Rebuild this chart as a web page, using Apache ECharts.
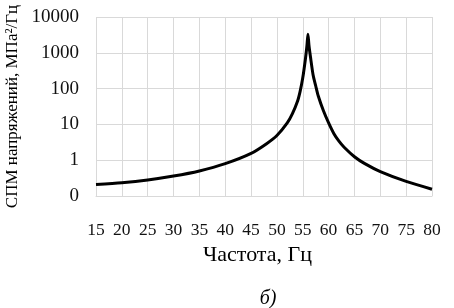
<!DOCTYPE html>
<html>
<head>
<meta charset="utf-8">
<script src="https://cdn.jsdelivr.net/npm/echarts@6/dist/echarts.min.js"></script>
<style>
  html, body { margin: 0; padding: 0; background: #fff; }
  #chart { width: 454px; height: 308px; }
</style>
</head>
<body>
<div id="chart"></div>
<script>
// частота, Гц
const freq = [15, 20, 25, 30, 35, 40, 45, 48, 50, 52, 53, 54, 54.5, 55, 55.5, 55.8, 56,
  56.2, 56.5, 57, 57.5, 58, 59, 60, 61, 62, 63, 65, 67, 70, 75, 80];
// СПМ напряжений, МПа²/Гц
const psd = [0.21, 0.235, 0.28, 0.36, 0.5, 0.8, 1.55, 2.9, 4.9, 11, 20, 45, 85, 200, 650, 1550, 3300,
  1600, 750, 240, 120, 62, 24, 11, 5.6, 3.4, 2.3, 1.25, 0.8, 0.48, 0.255, 0.155];
const xTicks = [15, 80, 5];          // min, max, step
const yTicks = [0.1, 10000];         // log range

const font = '"Liberation Serif", "Times New Roman", serif';
const myChart = echarts.init(document.getElementById('chart'));

const option = {
  animation: false,
  grid: { left: 96, right: 22, top: 17, bottom: 112, outerBoundsMode: 'none' },
  xAxis: {
    type: 'value',
    min: xTicks[0],
    max: xTicks[1],
    interval: xTicks[2],
    name: 'Частота, Гц',
    nameLocation: 'middle',
    nameGap: 47,
    nameTextStyle: { fontFamily: font, fontSize: 22, color: '#000', padding: [0, 13, 0, 0] },
    axisLine: { lineStyle: { color: '#d9d9d9' } },
    axisTick: { show: false },
    axisLabel: { fontFamily: font, fontSize: 17.5, color: '#111', margin: 25 },
    splitLine: { show: true, lineStyle: { color: '#d9d9d9' } }
  },
  yAxis: {
    type: 'log',
    logBase: 10,
    min: yTicks[0],
    max: yTicks[1],
    name: 'СПМ напряжений, МПа²/Гц',
    nameLocation: 'middle',
    nameGap: 71,
    nameTextStyle: { fontFamily: font, fontSize: 17, color: '#000' },
    axisLine: { show: false },
    axisTick: { show: false },
    axisLabel: {
      fontFamily: font, fontSize: 19, color: '#111', margin: 17,
      formatter: v => (v < 1 ? '0' : String(Math.round(v)))
    },
    splitLine: { show: true, lineStyle: { color: '#d9d9d9' } }
  },
  graphic: [{
    type: 'text',
    x: 268, y: 299,
    style: {
      text: 'б)', fontFamily: font, fontSize: 20, fontStyle: 'italic',
      fill: '#000', align: 'center', verticalAlign: 'middle'
    }
  }],
  series: [{
    type: 'line',
    data: freq.map((f, i) => [f, psd[i]]),
    smooth: 0.25,
    showSymbol: false,
    lineStyle: { color: '#000', width: 3 }
  }]
};

myChart.setOption(option);
</script>
</body>
</html>
